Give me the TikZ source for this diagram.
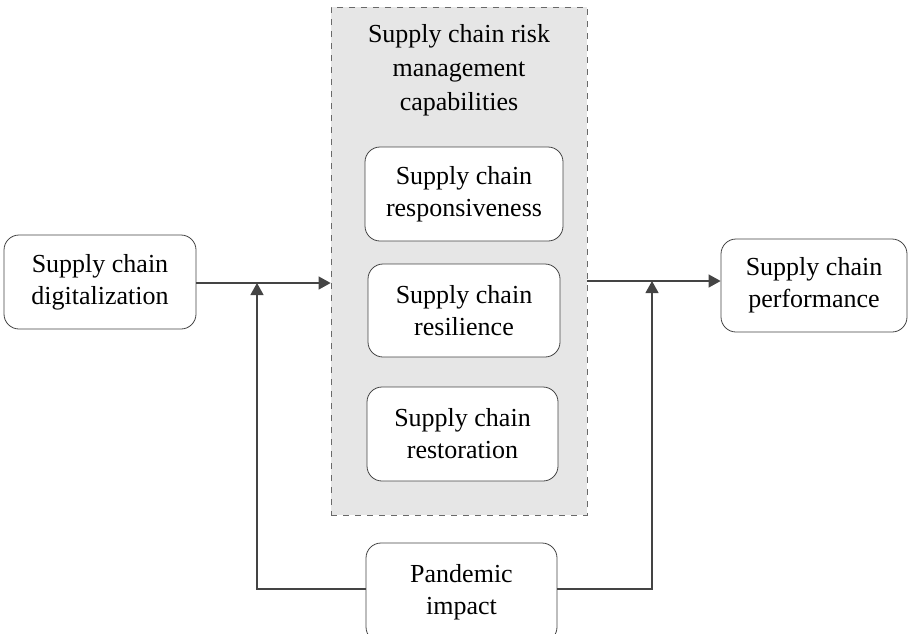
\documentclass[tikz,border=0pt]{standalone}
\usepackage{fontspec}
\setmainfont{Liberation Serif}
\usetikzlibrary{arrows.meta}

\definecolor{linegray}{HTML}{444444}
\definecolor{panelgray}{HTML}{E6E6E6}

\tikzset{
  scbox/.style={draw=linegray, fill=white, rounded corners=7.5pt, align=center,
    inner sep=0pt, font=\fontsize{13}{16}\selectfont},
  flow/.style={draw=linegray, line width=0.6pt, -{Triangle[length=6pt,width=6.5pt]}}
}

\begin{document}
\begin{tikzpicture}[x=0.5pt,y=-0.5pt]
\useasboundingbox (0,0) rectangle (908,633);
% panel of risk management capabilities
\node[draw=linegray!80, dashed, fill=panelgray, minimum width=128pt, minimum height=254pt,
  inner sep=0pt] (rmc) at (459,261) {};
\node[align=center, font=\fontsize{13}{17}\selectfont] (rmctitle) at (459,70)
  {Supply chain risk\\management\\capabilities};
\node[scbox, minimum width=99pt, minimum height=47pt] (resp) at (464,194) {Supply chain\\responsiveness};
\node[scbox, minimum width=96pt, minimum height=46.5pt] (resil) at (464,310.5) {Supply chain\\resilience};
\node[scbox, minimum width=95.5pt, minimum height=47pt] (restor) at (462.5,434) {Supply chain\\restoration};
% outer boxes
\node[scbox, minimum width=96pt, minimum height=47pt] (dig) at (100,282) {Supply chain\\digitalization};
\node[scbox, minimum width=93pt, minimum height=46.5pt] (perf) at (814,285.5) {Supply chain\\performance};
\node[scbox, minimum width=95.5pt, minimum height=49.5pt] (pand) at (461.5,592.5) {Pandemic\\impact};
% junctions
\coordinate (jl) at (257,283);
\coordinate (jr) at (652,281);
\draw[flow] (dig.east |- jl) -- (rmc.west |- jl);
\draw[flow] (rmc.east |- jr) -- (perf.west |- jr);
\draw[flow] (pand.west |- 0,589) -| (jl);
\draw[flow] (pand.east |- 0,589) -| (jr);
\end{tikzpicture}
\end{document}
